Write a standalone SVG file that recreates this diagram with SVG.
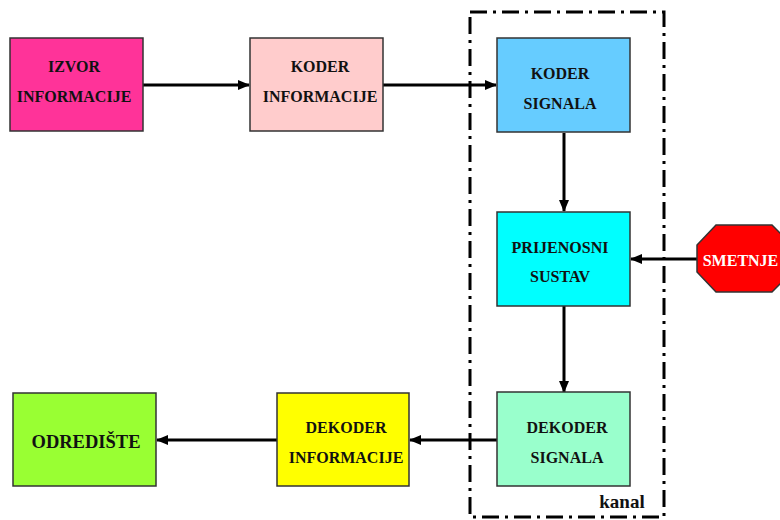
<svg xmlns="http://www.w3.org/2000/svg" width="780" height="520" viewBox="0 0 780 520">
<style>
.box{stroke:#333;stroke-width:1.5}
.t{font-family:'Liberation Serif','Times New Roman','DejaVu Serif',serif;font-weight:bold;font-size:16px;fill:#111;text-anchor:middle}
.c{stroke:#000;stroke-width:3;fill:none}
</style>
<defs>
<marker id="ah" markerUnits="userSpaceOnUse" markerWidth="12" markerHeight="12" viewBox="0 0 12 12" refX="11" refY="6" orient="auto">
<path d="M0,1 L12,6 L0,11 Z" fill="#000"/>
</marker>
</defs>
<rect x="0" y="0" width="780" height="520" fill="#fff"/>
<g id="kanal">
<rect x="470" y="12" width="194" height="505" fill="none" stroke="#000" stroke-width="3" stroke-dasharray="17 6 3 6"/>
<text class="t" x="622" y="508" style="font-size:19px">kanal</text>
</g>
<g id="connectors">
<line class="c" x1="143" y1="85" x2="249" y2="85" marker-end="url(#ah)"/>
<line class="c" x1="383" y1="85" x2="496" y2="85" marker-end="url(#ah)"/>
<line class="c" x1="564" y1="133" x2="564" y2="211" marker-end="url(#ah)"/>
<line class="c" x1="697" y1="259" x2="631" y2="259" marker-end="url(#ah)"/>
<line class="c" x1="564" y1="306" x2="564" y2="392" marker-end="url(#ah)"/>
<line class="c" x1="497" y1="440" x2="410" y2="440" marker-end="url(#ah)"/>
<line class="c" x1="277" y1="440" x2="157" y2="440" marker-end="url(#ah)"/>
</g>
<g id="izvor">
<rect class="box" x="10" y="38" width="133" height="93" fill="#FF3399"/>
<text class="t" x="74" y="72">IZVOR</text>
<text class="t" x="74" y="102">INFORMACIJE</text>
</g>
<g id="koder-informacije">
<rect class="box" x="250" y="38" width="133" height="93" fill="#FFCCCC"/>
<text class="t" x="320" y="72">KODER</text>
<text class="t" x="320" y="102">INFORMACIJE</text>
</g>
<g id="koder-signala">
<rect class="box" x="497" y="38" width="133" height="94" fill="#66CCFF"/>
<text class="t" x="560" y="79">KODER</text>
<text class="t" x="560" y="109">SIGNALA</text>
</g>
<g id="prijenosni-sustav">
<rect class="box" x="497" y="212" width="133" height="94" fill="#00FFFF"/>
<text class="t" x="560" y="253">PRIJENOSNI</text>
<text class="t" x="560" y="282">SUSTAV</text>
</g>
<g id="smetnje">
<polygon points="716,225 772,225 792,245 792,272 772,292 716,292 697,272 697,245" fill="#FF0000" stroke="#333" stroke-width="1.5"/>
<text class="t" x="740.5" y="266" style="fill:#fff">SMETNJE</text>
</g>
<g id="dekoder-signala">
<rect class="box" x="497" y="392" width="133" height="94" fill="#99FFCC"/>
<text class="t" x="567" y="433">DEKODER</text>
<text class="t" x="567" y="463">SIGNALA</text>
</g>
<g id="dekoder-informacije">
<rect class="box" x="277" y="393" width="132" height="93" fill="#FFFF00"/>
<text class="t" x="346" y="433">DEKODER</text>
<text class="t" x="346" y="463">INFORMACIJE</text>
</g>
<g id="odrediste">
<rect class="box" x="13" y="393" width="143" height="93" fill="#99FF33"/>
<text class="t" x="86" y="448" style="font-size:18.5px">ODREDIŠTE</text>
</g>
</svg>
